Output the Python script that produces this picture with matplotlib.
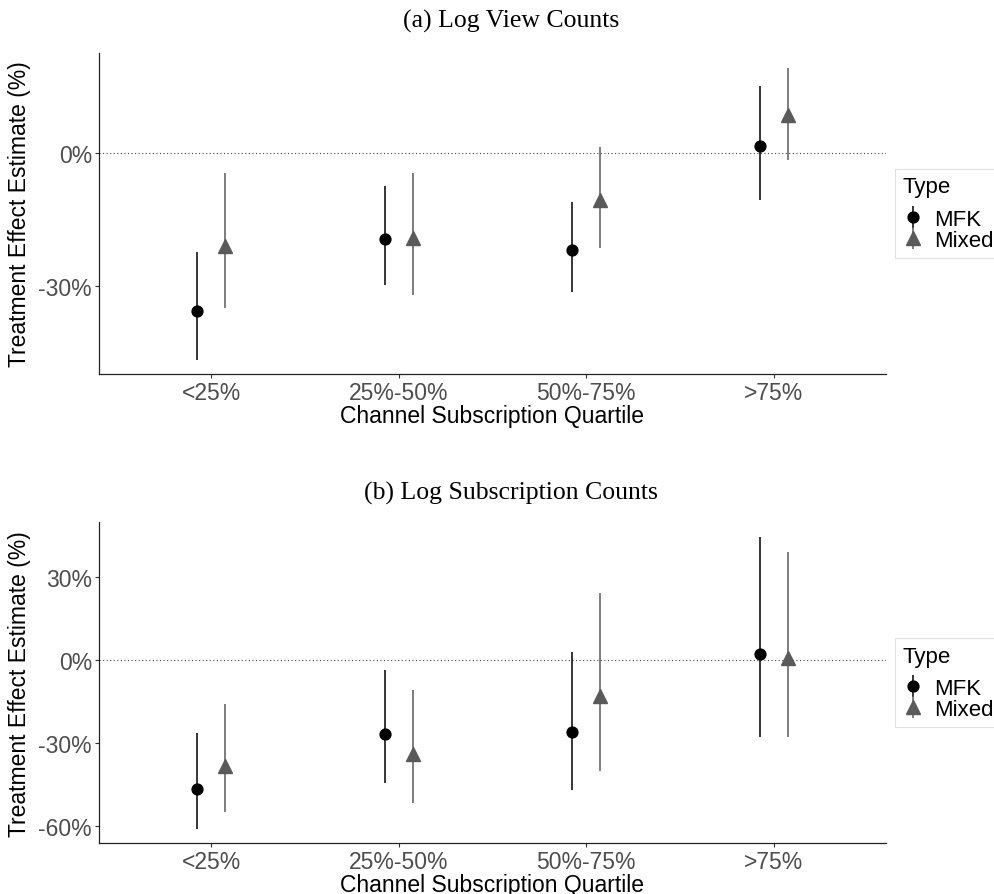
import numpy as np
import matplotlib
matplotlib.use("Agg")
import matplotlib.pyplot as plt
from matplotlib.ticker import FuncFormatter

quartiles = ["<25%", "25%-50%", "50%-75%", ">75%"]

# panel (a): log view counts, percent
views_mfk = [-35.6, -19.4, -21.8, 1.5]
views_mfk_lo = [-46.7, -29.8, -31.3, -10.5]
views_mfk_hi = [-22.3, -7.5, -11.1, 15.2]
views_mixed = [-20.9, -19.2, -10.6, 8.6]
views_mixed_lo = [-35.0, -32.0, -21.5, -1.5]
views_mixed_hi = [-4.6, -4.4, 1.3, 19.3]

# panel (b): log subscription counts, percent
subs_mfk = [-46.5, -26.8, -26.1, 2.2]
subs_mfk_lo = [-60.9, -44.4, -46.9, -27.8]
subs_mfk_hi = [-26.4, -3.6, 2.9, 44.6]
subs_mixed = [-38.1, -34.1, -12.9, 0.7]
subs_mixed_lo = [-54.9, -51.6, -39.9, -27.7]
subs_mixed_hi = [-15.9, -10.8, 24.4, 39.2]

SANS = ["Liberation Sans", "DejaVu Sans"]
plt.rcParams["font.family"] = SANS

fig = plt.figure(figsize=(9.95, 8.95), dpi=100)


def pointrange(ax, xs, est, lo, hi, color, marker, ms, label):
    est = np.array(est)
    yerr = [est - np.array(lo), np.array(hi) - est]
    return ax.errorbar(xs, est, yerr=yerr, fmt=marker, color=color, ecolor=color,
                       elinewidth=1.1, markersize=ms, capsize=0, label=label)


def panel(rect, title, mfk, mfk_lo, mfk_hi, mix, mix_lo, mix_hi, ylim, yticks, title_y):
    ax = fig.add_axes(rect)
    x = np.arange(1, len(quartiles) + 1)
    ax.axhline(0, color="#444444", lw=0.8, ls=(0, (1, 2.2)), zorder=0)
    h1 = pointrange(ax, x - 0.075, mfk, mfk_lo, mfk_hi, "black", "o", 7.8, "MFK")
    h2 = pointrange(ax, x + 0.075, mix, mix_lo, mix_hi, "#5a5a5a", "^", 10.5, "Mixed")

    ax.set_xlim(0.4, 4.6)
    ax.set_ylim(*ylim)
    ax.set_xticks(x)
    ax.set_xticklabels(quartiles)
    ax.set_yticks(yticks)
    ax.yaxis.set_major_formatter(FuncFormatter(lambda v, p: f"{v:.0f}%"))
    for s in ["top", "right"]:
        ax.spines[s].set_visible(False)
    for s in ["left", "bottom"]:
        ax.spines[s].set_color("#222222")
        ax.spines[s].set_linewidth(0.9)
    ax.tick_params(axis="both", labelsize=16.5, labelcolor="#4d4d4d", color="#333333",
                   length=3, width=0.8, pad=2)
    ax.set_xlabel("Channel Subscription Quartile", fontsize=16.5, labelpad=0)
    ax.set_ylabel("Treatment Effect Estimate (%)", fontsize=16.5, labelpad=5)

    fig.text(511 / 995, 1 - title_y / 895, title, ha="center", va="center",
             fontsize=18.5, family=["Liberation Serif", "DejaVu Serif"])

    leg = ax.legend([h1, h2], ["MFK", "Mixed"], title="Type", loc="center left",
                    bbox_to_anchor=(895 / 995, rect[1] + rect[3] / 2),
                    bbox_transform=fig.transFigure,
                    fontsize=16, title_fontsize=16, frameon=True, fancybox=False,
                    edgecolor="#d9d9d9", borderaxespad=0, borderpad=0.35,
                    labelspacing=0.0, handlelength=0.9, handletextpad=0.5,
                    alignment="left")
    leg._legend_box.sep = 8
    leg.get_frame().set_linewidth(0.8)
    return ax


panel([99 / 995, 1 - 375 / 895, 787 / 995, 321 / 895], "(a) Log View Counts",
      views_mfk, views_mfk_lo, views_mfk_hi, views_mixed, views_mixed_lo, views_mixed_hi,
      (-49.9, 22.6), [-30, 0], 21)

panel([99 / 995, 1 - 844 / 895, 787 / 995, 320.7 / 895], "(b) Log Subscription Counts",
      subs_mfk, subs_mfk_lo, subs_mfk_hi, subs_mixed, subs_mixed_lo, subs_mixed_hi,
      (-66.1, 49.8), [-60, -30, 0, 30], 493)

fig.savefig("out.png", dpi=100)
